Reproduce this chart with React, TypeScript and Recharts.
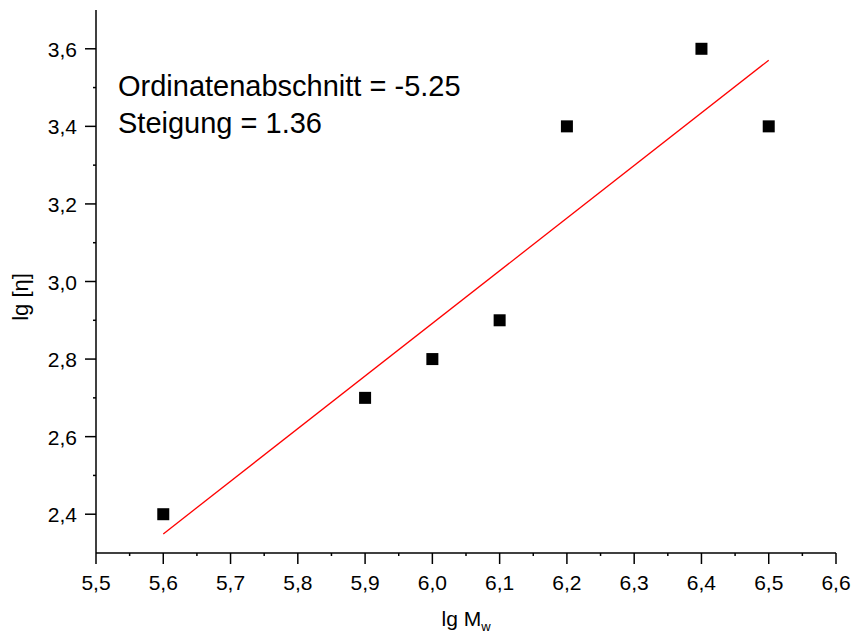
import React from "react";
import { ComposedChart, Scatter, XAxis, YAxis } from "recharts";

// measured samples
const lgMw = [5.6, 5.9, 6.0, 6.1, 6.2, 6.4, 6.5];
const lgEta = [2.4, 2.7, 2.8, 2.9, 3.4, 3.6, 3.4];

// linear fit result
const intercept = -5.25;
const slope = 1.357;
const fitRange = [5.6, 6.5];

const xMajorTicks = [5.5, 5.6, 5.7, 5.8, 5.9, 6.0, 6.1, 6.2, 6.3, 6.4, 6.5, 6.6];
const xMinorTicks = [5.55, 5.65, 5.75, 5.85, 5.95, 6.05, 6.15, 6.25, 6.35, 6.45, 6.55];
const yMajorTicks = [2.4, 2.6, 2.8, 3.0, 3.2, 3.4, 3.6];
const yMinorTicks = [2.5, 2.7, 2.9, 3.1, 3.3, 3.5];

const points = lgMw.map((x, i) => ({ x, y: lgEta[i] }));
const fitPoints = fitRange.map((x) => ({ x, y: intercept + slope * x }));

const FONT = "'Liberation Sans', Arial, sans-serif";
const fmt = (v: number) => v.toFixed(1).replace(".", ",");

const isMajor = (v: number, majors: number[]) => majors.some((m) => Math.abs(m - v) < 1e-6);

const XTick = (props: any) => {
  const { x, y, payload } = props;
  const major = isMajor(payload.value, xMajorTicks);
  return (
    <g>
      <line x1={x} x2={x} y1={y} y2={y + (major ? 11 : 3)} stroke="#000" strokeWidth={1.5} />
      {major && (
        <text x={x} y={y + 37} textAnchor="middle" fontSize={21} fontFamily={FONT} fill="#000">
          {fmt(payload.value)}
        </text>
      )}
    </g>
  );
};

const YTick = (props: any) => {
  const { x, y, payload } = props;
  const major = isMajor(payload.value, yMajorTicks);
  return (
    <g>
      <line x1={x} x2={x - (major ? 11 : 3)} y1={y} y2={y} stroke="#000" strokeWidth={1.5} />
      {major && (
        <text x={x - 19} y={y + 8} textAnchor="end" fontSize={21} fontFamily={FONT} fill="#000">
          {fmt(payload.value)}
        </text>
      )}
    </g>
  );
};

const Square = (props: any) => {
  const { cx, cy } = props;
  return <rect x={cx - 6} y={cy - 6} width={12} height={12} fill="#000" />;
};

export default function App() {
  return (
    <div style={{ position: "absolute", left: 0, top: 0, width: 852, height: 639, background: "#fff", fontFamily: FONT }}>
      <ComposedChart width={852} height={639} margin={{ top: 10, right: 16, left: 0, bottom: 0 }}>
        <XAxis
          type="number"
          dataKey="x"
          domain={[5.5, 6.6]}
          ticks={[...xMajorTicks, ...xMinorTicks].sort((a, b) => a - b)}
          interval={0}
          height={86}
          tickSize={0}
          tickMargin={0}
          tickLine={false}
          tick={<XTick />}
          axisLine={{ stroke: "#000", strokeWidth: 1.5 }}
          allowDataOverflow
        />
        <YAxis
          type="number"
          dataKey="y"
          domain={[2.3, 3.7]}
          ticks={[...yMajorTicks, ...yMinorTicks].sort((a, b) => a - b)}
          interval={0}
          width={96}
          tickSize={0}
          tickMargin={0}
          tickLine={false}
          tick={<YTick />}
          axisLine={{ stroke: "#000", strokeWidth: 1.5 }}
          allowDataOverflow
        />
        <Scatter
          data={fitPoints}
          line={{ stroke: "#ff0000", strokeWidth: 1.3 }}
          shape={() => <g />}
          isAnimationActive={false}
        />
        <Scatter data={points} shape={<Square />} isAnimationActive={false} />
      </ComposedChart>

      <div style={{ position: "absolute", left: 118, top: 68, fontSize: 29, lineHeight: "37px", color: "#000", whiteSpace: "nowrap" }}>
        <div>Ordinatenabschnitt = {intercept.toFixed(2)}</div>
        <div>Steigung = {slope.toFixed(2)}</div>
      </div>

      <div style={{ position: "absolute", left: 466, top: 607, transform: "translateX(-50%)", fontSize: 21, whiteSpace: "nowrap" }}>
        lg M<sub style={{ fontSize: 13 }}>w</sub>
      </div>

      <div
        style={{
          position: "absolute",
          left: 21,
          top: 297,
          transform: "translate(-50%, -50%) rotate(-90deg)",
          fontSize: 22,
          whiteSpace: "nowrap",
        }}
      >
        lg [η]
      </div>
    </div>
  );
}
